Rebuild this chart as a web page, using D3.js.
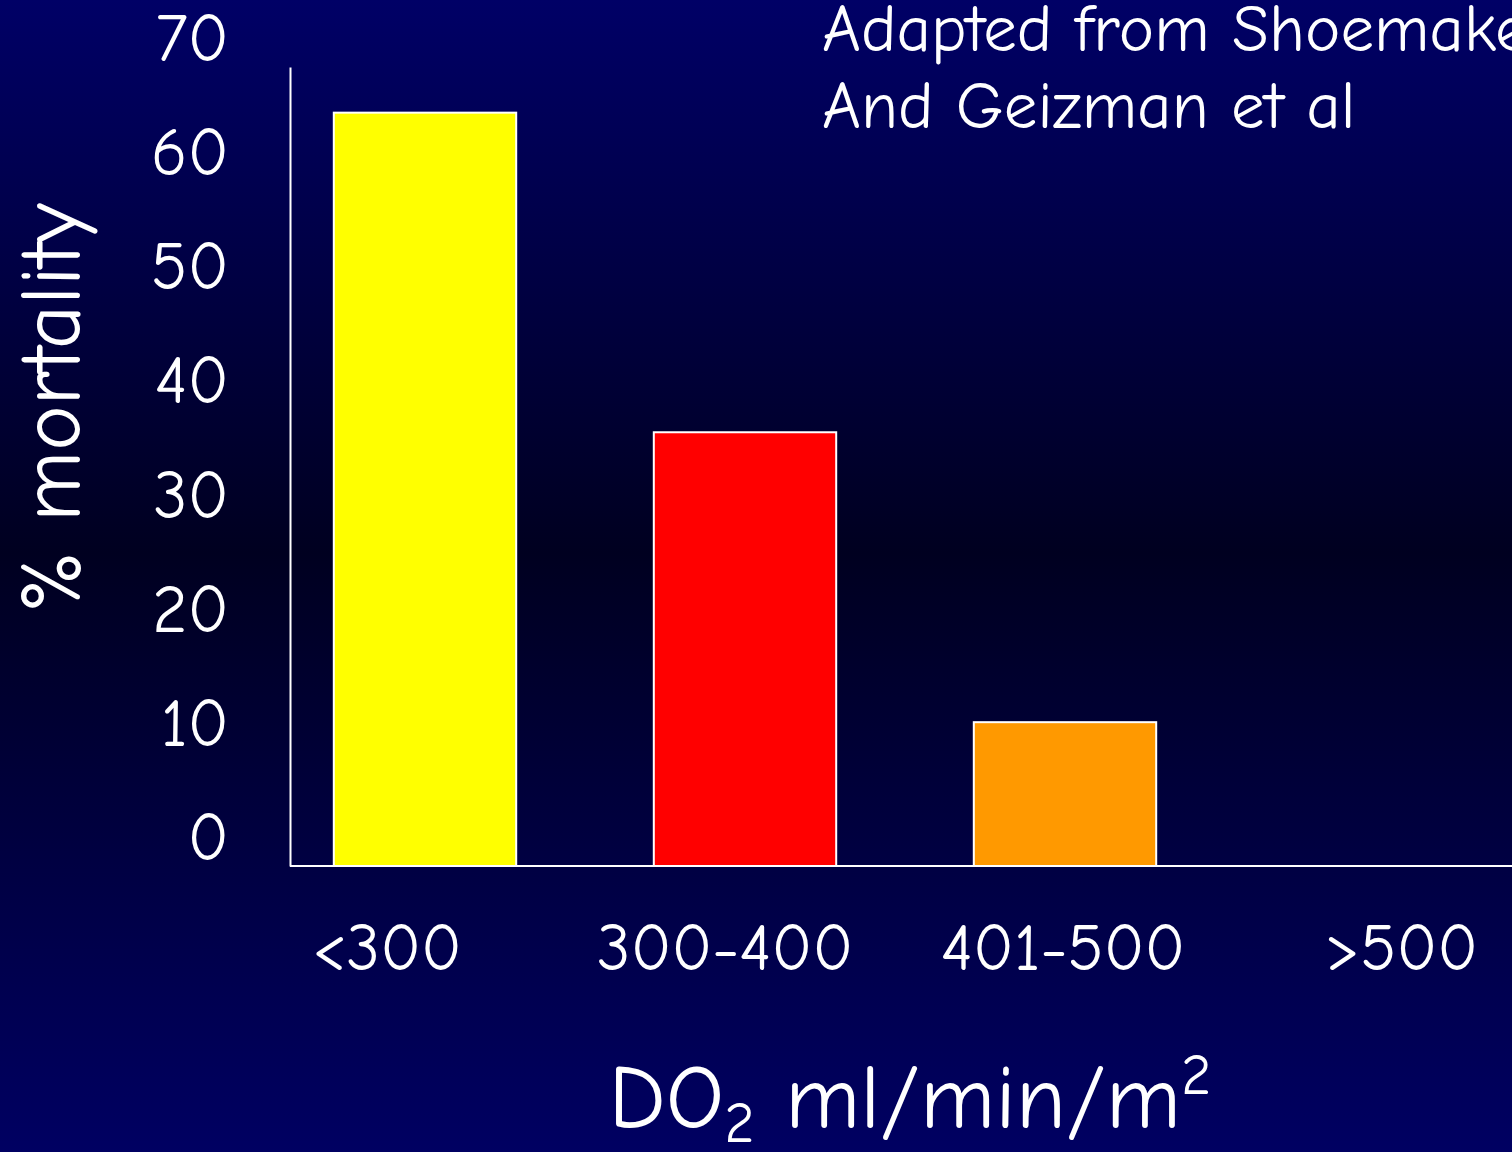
<!DOCTYPE html>
<html><head><meta charset="utf-8">
<script src="https://cdn.jsdelivr.net/npm/d3@7"></script>
<style>html,body{margin:0;padding:0;background:#000040;overflow:hidden}</style>
</head><body>
<script>
const categories = ["<300", "300-400", "401-500", ">500"];
const mortality = [66, 38, 12.6, 0];
const barColors = ["#FFFF00", "#FF0000", "#FF9900", "#FF9900"];
const yTicks = [0, 10, 20, 30, 40, 50, 60, 70];
const noteLines = ["Adapted from Shoemaker", "And Geizman et al"];
const yTitle = "% mortality";

const W = 1512, H = 1152;
const font = "'Comic Sans MS','Comic Neue','Open Sans',sans-serif";
const svg = d3.select("body").append("svg").attr("width", W).attr("height", H);

const defs = svg.append("defs");
const grad = defs.append("linearGradient").attr("id", "bg").attr("x1", 0).attr("y1", 0).attr("x2", 0).attr("y2", 1);
grad.append("stop").attr("offset", "0%").attr("stop-color", "#000066");
grad.append("stop").attr("offset", "48%").attr("stop-color", "#000020");
grad.append("stop").attr("offset", "100%").attr("stop-color", "#000062");
svg.append("rect").attr("width", W).attr("height", H).attr("fill", "url(#bg)");

const y = d3.scaleLinear().domain([0, 70]).range([866, 67]);
const x = d3.scaleBand().domain(categories).range([265, 1545]).paddingInner(0.43).paddingOuter(0.215);
const xLab = d3.scaleBand().domain(categories).range([218, 1570]);

// bars
svg.append("g").selectAll("rect").data(categories).join("rect")
  .attr("x", d => x(d))
  .attr("width", x.bandwidth())
  .attr("y", (d, i) => y(mortality[i]))
  .attr("height", (d, i) => y(0) - y(mortality[i]))
  .attr("fill", (d, i) => barColors[i])
  .attr("stroke", (d, i) => mortality[i] > 0 ? "#ffffff" : "none")
  .attr("stroke-width", 2);

// axes lines
const yAxis = d3.axisLeft(y).tickValues([]).tickSize(0);
svg.append("g").attr("transform", "translate(290,0)").call(yAxis)
  .select(".domain").attr("stroke", "#ffffff").attr("stroke-width", 2);
svg.append("line").attr("x1", 290).attr("x2", W).attr("y1", y(0)).attr("y2", y(0))
  .attr("stroke", "#ffffff").attr("stroke-width", 2);

// y tick labels (text box offset above gridlines)
svg.append("g").selectAll("text").data(yTicks).join("text")
  .attr("x", 229).attr("y", d => y(d) - 28)
  .attr("text-anchor", "end").attr("dominant-baseline", "central")
  .attr("fill", "#ffffff").attr("font-family", font).attr("font-size", 68)
  .text(d => d);

// x category labels
svg.append("g").selectAll("text").data(categories).join("text")
  .attr("x", d => xLab(d) + xLab.bandwidth() / 2).attr("y", 970)
  .attr("text-anchor", "middle")
  .attr("fill", "#ffffff").attr("font-family", font).attr("font-size", 67)
  .text(d => d);

// y title
svg.append("text").attr("transform", "translate(80,408) rotate(-90)")
  .attr("text-anchor", "middle")
  .attr("fill", "#ffffff").attr("font-family", font).attr("font-size", 86)
  .text(yTitle);

// x title with sub/superscript
const xt = svg.append("text").attr("x", 910).attr("y", 1128).attr("text-anchor", "middle")
  .attr("fill", "#ffffff").attr("font-family", font).attr("font-size", 91);
xt.append("tspan").text("DO");
xt.append("tspan").attr("font-size", 58).attr("dy", 14).text("2");
xt.append("tspan").attr("dy", -14).text(" ml/min/m");
xt.append("tspan").attr("font-size", 58).attr("dy", -34).text("2");

// note
svg.append("g").selectAll("text").data(noteLines).join("text")
  .attr("x", 822).attr("y", (d, i) => 51 + i * 77)
  .attr("fill", "#ffffff").attr("font-family", font).attr("font-size", 67)
  .text(d => d);
</script>
</body></html>
